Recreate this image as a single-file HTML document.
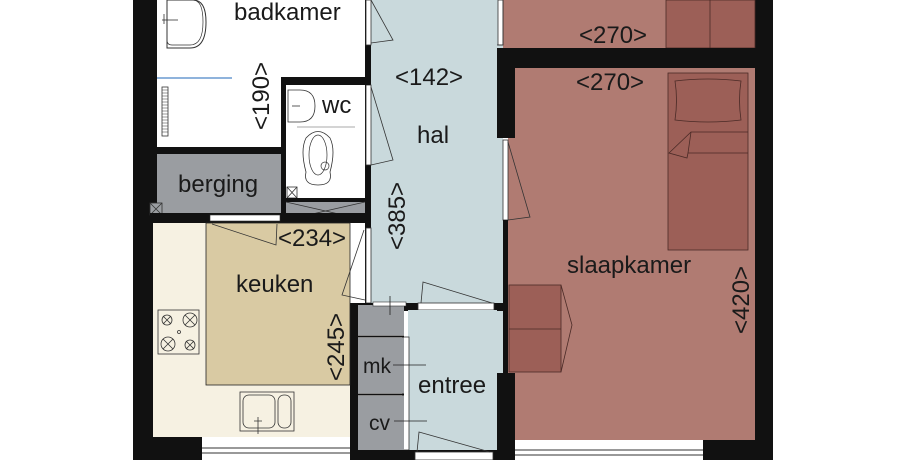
<!DOCTYPE html>
<html><head><meta charset="utf-8"><style>
html,body{margin:0;padding:0;background:#fff;width:905px;height:460px;overflow:hidden}
svg{display:block}
text{font-family:"Liberation Sans","DejaVu Sans",sans-serif;fill:#1a1a1a}
</style></head><body>
<svg width="905" height="460" viewBox="0 0 905 460" xmlns="http://www.w3.org/2000/svg">
<!-- outer walls -->
<rect x="133" y="0" width="24" height="460" fill="#111"/>
<rect x="755" y="0" width="18" height="460" fill="#111"/>
<!-- bedroom top -->
<rect x="503" y="0" width="252" height="48" fill="#b07b72"/>
<rect x="666" y="0" width="89" height="48" fill="#9c5f57" stroke="#4a2a26" stroke-width="0.8"/>
<line x1="710" y1="0" x2="710" y2="48" stroke="#4a2a26" stroke-width="0.8"/>
<rect x="497" y="48" width="276" height="20" fill="#111"/>
<!-- bedroom main -->
<rect x="508" y="68" width="247" height="372" fill="#b07b72"/>
<rect x="497" y="68" width="18" height="70" fill="#111"/>
<rect x="497" y="138" width="6" height="235" fill="#c9d9dc"/>
<rect x="503" y="140" width="5" height="80" fill="#fff" stroke="#333" stroke-width="0.8"/>
<polyline points="508,142 530,217 508,220" fill="none" stroke="#333" stroke-width="0.8"/>
<rect x="503" y="220" width="5" height="153" fill="#111"/>
<rect x="497" y="373" width="18" height="87" fill="#111"/>
<!-- bed -->
<rect x="668" y="73" width="80" height="177" fill="#9c5f57" stroke="#4a2a26" stroke-width="0.8"/>
<path d="M675,81 Q708,77 741,81 Q738,100 741,120 Q708,124 675,120 Q678,100 675,81Z" fill="#9c5f57" stroke="#4a2a26" stroke-width="0.8"/>
<polyline points="748,132 691,132 669,153 687,158 688,153 748,153" fill="none" stroke="#4a2a26" stroke-width="0.8"/>
<line x1="691" y1="132" x2="688" y2="153" stroke="#4a2a26" stroke-width="0.8"/>
<!-- desk -->
<rect x="509" y="285" width="52" height="87" fill="#9c5f57" stroke="#4a2a26" stroke-width="0.8"/>
<line x1="509" y1="329" x2="561" y2="329" stroke="#4a2a26" stroke-width="0.8"/>
<polyline points="561,285 572,325 561,372" fill="none" stroke="#4a2a26" stroke-width="0.8"/>
<!-- bottom window bedroom -->
<rect x="515" y="440" width="188" height="20" fill="#fff"/>
<line x1="515" y1="450" x2="703" y2="450" stroke="#333" stroke-width="1"/>
<line x1="515" y1="455" x2="703" y2="455" stroke="#333" stroke-width="1"/>
<rect x="703" y="440" width="70" height="20" fill="#111"/>
<!-- hall -->
<rect x="365" y="0" width="132" height="305" fill="#c9d9dc"/>
<rect x="497" y="0" width="6" height="48" fill="#c9d9dc"/>
<rect x="498" y="0" width="5" height="45" fill="#fff" stroke="#333" stroke-width="0.8"/>
<polyline points="503,0 503,45 497,45" fill="none" stroke="#333" stroke-width="0.8"/>
<!-- hall left wall w doors -->
<rect x="365" y="0" width="6" height="305" fill="#111"/>
<rect x="366" y="0" width="5" height="45" fill="#fff" stroke="#333" stroke-width="0.8"/>
<polyline points="371,0 393,40 371,43" fill="none" stroke="#333" stroke-width="0.8"/>
<rect x="366" y="85" width="5" height="80" fill="#fff" stroke="#333" stroke-width="0.8"/>
<polyline points="371,87 393,160 371,165" fill="none" stroke="#333" stroke-width="0.8"/>
<rect x="366" y="228" width="5" height="75" fill="#fff" stroke="#333" stroke-width="0.8"/>
<!-- hall/entree door -->
<rect x="350" y="303" width="153" height="8" fill="#111"/>
<rect x="418" y="303" width="76" height="7" fill="#fff" stroke="#333" stroke-width="0.8"/>
<polyline points="421,303 423,282 492,303" fill="none" stroke="#333" stroke-width="0.8"/>
<!-- entree -->
<rect x="408" y="310" width="89" height="145" fill="#c9d9dc"/>
<rect x="403" y="337" width="6" height="113" fill="#fff" stroke="#333" stroke-width="0.8"/>
<rect x="350" y="450" width="153" height="10" fill="#111"/>
<rect x="415" y="452" width="78" height="8" fill="#fff" stroke="#333" stroke-width="0.8"/>
<polyline points="417,452 419,432 490,452" fill="none" stroke="#333" stroke-width="0.8"/>
<!-- closets -->
<rect x="350" y="303" width="8" height="157" fill="#111"/>
<rect x="358" y="305" width="46" height="30" fill="#9a9da1"/>
<rect x="358" y="338" width="46" height="55" fill="#9a9da1"/>
<rect x="358" y="396" width="46" height="54" fill="#9a9da1"/>
<line x1="358" y1="336.5" x2="404" y2="336.5" stroke="#111" stroke-width="2"/>
<line x1="358" y1="394.5" x2="404" y2="394.5" stroke="#111" stroke-width="2"/>
<rect x="373" y="302" width="33" height="4" fill="#fff" stroke="#333" stroke-width="0.6"/>
<line x1="390" y1="296" x2="390" y2="315" stroke="#222" stroke-width="0.8"/>
<line x1="393" y1="365" x2="426" y2="365" stroke="#222" stroke-width="0.8"/>
<line x1="394" y1="421" x2="427" y2="421" stroke="#222" stroke-width="0.8"/>
<!-- badkamer -->
<rect x="157" y="0" width="208" height="147" fill="#fff"/>
<path d="M167,0 L193,0 Q206,0 206,22 Q206,48 190,48 L167,48Z" fill="#fff" stroke="#333" stroke-width="1"/>
<path d="M170,0 L193,0 Q203,0 203,22 Q203,45 190,45 L172,45 Q167,45 167,40" fill="none" stroke="#333" stroke-width="0.7"/>
<line x1="162" y1="20" x2="178" y2="20" stroke="#333" stroke-width="0.8"/>
<line x1="164" y1="14" x2="164" y2="24" stroke="#333" stroke-width="0.8"/>
<line x1="157" y1="78" x2="232" y2="78" stroke="#6a9ad0" stroke-width="1.5"/>
<rect x="162" y="87" width="6" height="49" fill="#fff" stroke="#333" stroke-width="0.8"/>
<path d="M162,90h6M162,93h6M162,96h6M162,99h6M162,102h6M162,105h6M162,108h6M162,111h6M162,114h6M162,117h6M162,120h6M162,123h6M162,126h6M162,129h6M162,132h6" stroke="#333" stroke-width="0.5"/>
<!-- wc -->
<rect x="281" y="77" width="89" height="8" fill="#111"/>
<rect x="281" y="77" width="5" height="143" fill="#111"/>
<rect x="286" y="85" width="79" height="115" fill="#fff"/>
<path d="M288,90 L300,90 Q315,90 315,106 Q315,122 300,122 L288,122Z" fill="#fff" stroke="#333" stroke-width="0.8"/>
<line x1="292" y1="106" x2="300" y2="106" stroke="#333" stroke-width="0.8"/>
<line x1="297" y1="127" x2="355" y2="127" stroke="#aaa" stroke-width="1"/>
<path d="M306,172 Q300,150 306,138 Q318,125 330,138 Q336,150 330,172 Q333,185 318,185 Q303,185 306,172Z" fill="#fff" stroke="#333" stroke-width="0.8"/>
<ellipse cx="318" cy="155" rx="9" ry="20" fill="none" stroke="#333" stroke-width="0.7"/>
<circle cx="325" cy="166" r="4" fill="none" stroke="#333" stroke-width="0.7"/>
<rect x="287" y="187" width="10" height="11" fill="#fff" stroke="#333" stroke-width="0.8"/>
<path d="M287,187l10,11M297,187l-10,11" stroke="#333" stroke-width="0.8"/>
<rect x="286" y="198" width="79" height="4" fill="#111"/>
<rect x="286" y="202" width="79" height="18" fill="#9a9da1"/>
<path d="M286,202L365,220M365,202L286,220" stroke="#333" stroke-width="0.8"/>
<!-- berging -->
<rect x="157" y="147" width="129" height="7" fill="#111"/>
<rect x="157" y="154" width="124" height="59" fill="#9a9da1"/>
<rect x="150" y="203" width="12" height="12" fill="#9a9da1" stroke="#333" stroke-width="0.8"/>
<path d="M150,203l12,12M162,203l-12,12" stroke="#333" stroke-width="0.8"/>
<rect x="150" y="213" width="220" height="10" fill="#111"/>
<rect x="210" y="215" width="70" height="6" fill="#fff" stroke="#333" stroke-width="0.6"/>
<!-- keuken -->
<rect x="153" y="223" width="197" height="214" fill="#f6f1e2"/>
<rect x="206" y="223" width="144" height="162" fill="#d9caa3" stroke="#222" stroke-width="0.8"/>
<polyline points="212,224 276,245 277,224" fill="none" stroke="#333" stroke-width="0.8"/>
<polyline points="364,230 342,295 365,300" fill="none" stroke="#333" stroke-width="0.8"/>
<rect x="158" y="310" width="41" height="44" fill="#f6f1e2" stroke="#333" stroke-width="0.8"/>
<g fill="none" stroke="#333" stroke-width="0.8">
<circle cx="167" cy="320" r="5"/><path d="M163,316l8,8M171,316l-8,8"/>
<circle cx="190" cy="320" r="7"/><path d="M185,315l10,10M195,315l-10,10"/>
<circle cx="168" cy="344" r="7"/><path d="M163,339l10,10M173,339l-10,10"/>
<circle cx="190" cy="345" r="5"/><path d="M186,341l8,8M194,341l-8,8"/>
<circle cx="179" cy="332" r="1.5"/>
</g>
<rect x="240" y="392" width="54" height="39" fill="#f6f1e2" stroke="#333" stroke-width="0.8"/>
<rect x="243" y="395" width="32" height="33" rx="6" fill="none" stroke="#333" stroke-width="0.8"/>
<rect x="278" y="395" width="13" height="33" rx="6" fill="none" stroke="#333" stroke-width="0.8"/>
<path d="M258,417v17M254,421h8" stroke="#333" stroke-width="0.8"/>
<rect x="133" y="437" width="69" height="23" fill="#111"/>
<rect x="202" y="439" width="148" height="21" fill="#fff"/>
<line x1="202" y1="448" x2="350" y2="448" stroke="#333"/>
<line x1="202" y1="453" x2="350" y2="453" stroke="#333"/>
<!-- labels -->
<g font-size="24">
<text x="234" y="20">badkamer</text>
<text x="322" y="113">wc</text>
<text x="178" y="192">berging</text>
<text x="236" y="292">keuken</text>
<text x="417" y="143">hal</text>
<text x="418" y="393">entree</text>
<text x="567" y="273">slaapkamer</text>
<text x="395" y="85">&lt;142&gt;</text>
<text x="579" y="43">&lt;270&gt;</text>
<text x="576" y="90">&lt;270&gt;</text>
<text x="278" y="246">&lt;234&gt;</text>
<text transform="translate(269,130) rotate(-90)">&lt;190&gt;</text>
<text transform="translate(405,250) rotate(-90)">&lt;385&gt;</text>
<text transform="translate(344,381) rotate(-90)">&lt;245&gt;</text>
<text transform="translate(749,334) rotate(-90)">&lt;420&gt;</text>
</g>
<text x="363" y="373" font-size="21">mk</text>
<text x="369" y="430" font-size="21">cv</text>
</svg>
</body></html>
